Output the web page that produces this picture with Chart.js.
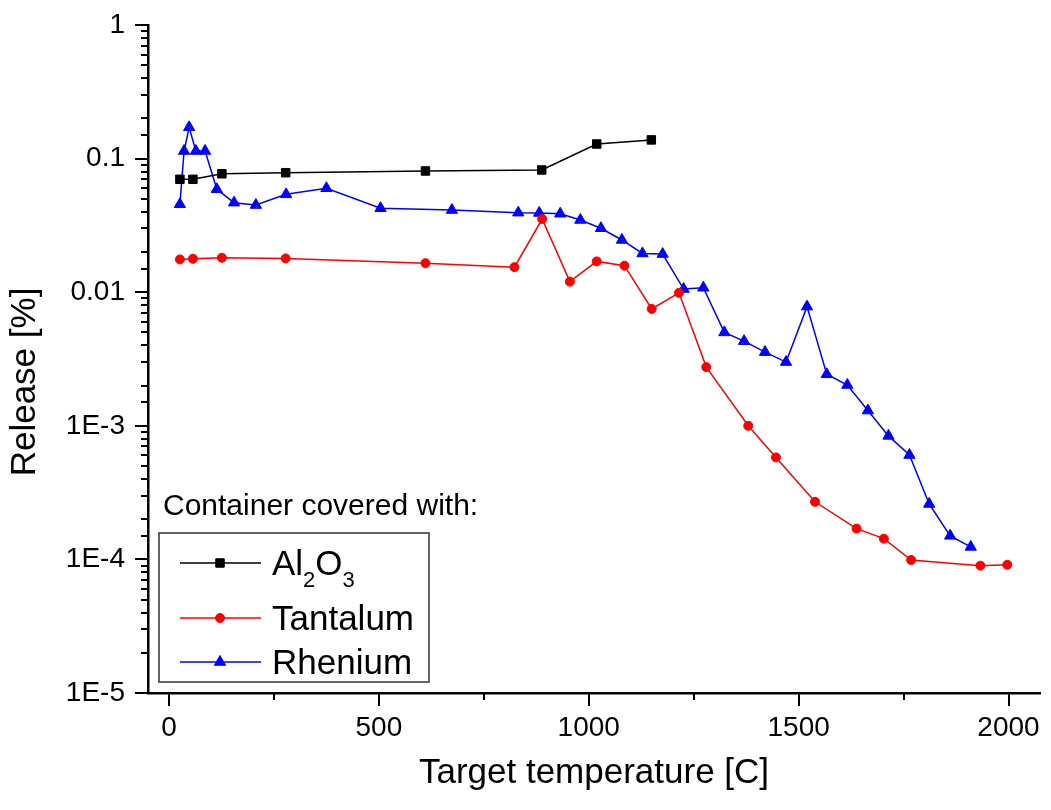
<!DOCTYPE html>
<html>
<head>
<meta charset="utf-8">
<script src="https://cdn.jsdelivr.net/npm/chart.js@4.4.1/dist/chart.umd.min.js"></script>
<style>
  html, body { margin: 0; padding: 0; background: #fff; }
  canvas { display: block; }
</style>
</head>
<body>
<canvas id="releaseChart" width="1051" height="810"></canvas>
<script>
const FONT = "'Liberation Sans', Arial, sans-serif";

// Al2O3 covered container
const al2o3Temp = [26, 57, 126, 278, 611, 888, 1019, 1149];
const al2o3Release = [0.070, 0.070, 0.077, 0.0784, 0.0808, 0.0822, 0.1286, 0.138];

// Tantalum covered container
const tantalumTemp = [26, 57, 126, 278, 611, 823, 889, 955, 1019, 1085, 1150, 1215,
  1280, 1380, 1446, 1539, 1638, 1703, 1768, 1933, 1997];
const tantalumRelease = [0.0176, 0.0178, 0.0181, 0.0179, 0.0165, 0.0154, 0.0353, 0.0120,
  0.0170, 0.0158, 0.0075, 0.0099, 0.00275, 0.00100, 0.00058, 0.00027, 0.000170,
  0.000143, 0.0000990, 0.0000898, 0.0000912];

// Rhenium covered container
const rheniumTemp = [26, 36, 48, 64, 86, 114, 155, 207, 279, 375, 504, 674, 832, 882,
  932, 980, 1029, 1079, 1128, 1176, 1226, 1273, 1323, 1370, 1420, 1470, 1520, 1567,
  1616, 1665, 1714, 1764, 1811, 1861, 1910];
const rheniumRelease = [0.0455, 0.114, 0.1715, 0.114, 0.114, 0.0589, 0.0468, 0.0449,
  0.054, 0.060, 0.0425, 0.0412, 0.0394, 0.0392, 0.0387, 0.0347, 0.0301, 0.0246,
  0.0195, 0.0193, 0.01056, 0.0108, 0.0050, 0.0043, 0.00356, 0.0030, 0.0078, 0.00243,
  0.00202, 0.00130, 0.00084, 0.000604, 0.00026, 0.000150, 0.000124];

// axes
const xMajorTicks = [0, 500, 1000, 1500, 2000];
const xMinorTicks = [250, 750, 1250, 1750];
const yMajorTicks = [1e-5, 1e-4, 1e-3, 0.01, 0.1, 1];
const yTickLabels = ['1E-5', '1E-4', '1E-3', '0.01', '0.1', '1'];

// legend texts, [text, isSubscript]
const legendTitle = 'Container covered with:';
const legendLabels = [
  [['Al', false], ['2', true], ['O', false], ['3', true]],
  [['Tantalum', false]],
  [['Rhenium', false]],
];

function toPoints(xs, ys) {
  return xs.map((x, i) => ({ x, y: ys[i] }));
}

function majorIndexY(v) {
  return yMajorTicks.findIndex((m) => Math.abs(v / m - 1) < 1e-6);
}

// tick marks: long for labelled values, short for the rest
const axisTicks = {
  id: 'axisTicks',
  afterDraw(chart) {
    const { ctx, chartArea, scales } = chart;
    ctx.save();
    ctx.strokeStyle = '#000';
    ctx.lineWidth = 2;
    ctx.beginPath();
    scales.x.ticks.forEach((t) => {
      const px = Math.round(scales.x.getPixelForValue(t.value));
      const len = xMajorTicks.includes(t.value) ? 13 : 7;
      ctx.moveTo(px, chartArea.bottom);
      ctx.lineTo(px, chartArea.bottom + len);
    });
    scales.y.ticks.forEach((t) => {
      const py = Math.round(scales.y.getPixelForValue(t.value));
      const len = majorIndexY(t.value) >= 0 ? 13 : 7;
      ctx.moveTo(chartArea.left, py);
      ctx.lineTo(chartArea.left - len, py);
    });
    ctx.stroke();

    // y axis title
    ctx.translate(25, 382);
    ctx.rotate(-Math.PI / 2);
    ctx.fillStyle = '#000';
    ctx.font = `35px ${FONT}`;
    ctx.textAlign = 'center';
    ctx.textBaseline = 'middle';
    ctx.fillText('Release [%]', 0, 0);
    ctx.restore();
  },
};

const legendBox = {
  id: 'legendBox',
  afterDraw(chart) {
    const ctx = chart.ctx;
    ctx.save();
    ctx.fillStyle = '#000';
    ctx.font = `30px ${FONT}`;
    ctx.textBaseline = 'alphabetic';
    ctx.fillText(legendTitle, 163, 515);

    ctx.strokeStyle = '#333';
    ctx.lineWidth = 1.5;
    ctx.strokeRect(159, 533, 270, 149);

    const rowY = [563, 618, 662];
    chart.data.datasets.forEach((ds, i) => {
      const y = rowY[i];
      ctx.strokeStyle = ds.borderColor;
      ctx.lineWidth = ds.borderWidth;
      ctx.beginPath();
      ctx.moveTo(180, y);
      ctx.lineTo(261, y);
      ctx.stroke();

      ctx.fillStyle = ds.backgroundColor;
      ctx.lineWidth = 1;
      Chart.helpers.drawPoint(ctx, {
        pointStyle: ds.pointStyle,
        radius: ds.pointRadius,
        borderWidth: 1,
        rotation: 0,
      }, 220, y);

      let x = 272;
      ctx.fillStyle = '#000';
      legendLabels[i].forEach(([txt, sub]) => {
        ctx.font = sub ? `22px ${FONT}` : `35px ${FONT}`;
        ctx.fillText(txt, x, sub ? y + 24 : y + 12);
        x += ctx.measureText(txt).width;
      });
    });
    ctx.restore();
  },
};

new Chart(document.getElementById('releaseChart'), {
  type: 'scatter',
  data: {
    datasets: [
      {
        label: 'Al2O3',
        data: toPoints(al2o3Temp, al2o3Release),
        showLine: true,
        borderColor: '#000000',
        backgroundColor: '#000000',
        borderWidth: 1.5,
        pointStyle: 'rect',
        pointRadius: 6,
        pointBorderWidth: 1,
      },
      {
        label: 'Tantalum',
        data: toPoints(tantalumTemp, tantalumRelease),
        showLine: true,
        borderColor: '#ff0000',
        backgroundColor: '#ff0000',
        borderWidth: 1.5,
        pointStyle: 'circle',
        pointRadius: 4.5,
        pointBorderWidth: 1,
      },
      {
        label: 'Rhenium',
        data: toPoints(rheniumTemp, rheniumRelease),
        showLine: true,
        borderColor: '#0000ff',
        backgroundColor: '#0000ff',
        borderWidth: 1.5,
        pointStyle: 'triangle',
        pointRadius: 6.5,
        pointBorderWidth: 1,
      },
    ],
  },
  options: {
    responsive: false,
    animation: false,
    layout: {
      padding: { top: 25, right: 11, left: 0, bottom: 0 },
    },
    plugins: {
      legend: { display: false },
      tooltip: { enabled: false },
    },
    scales: {
      x: {
        type: 'linear',
        min: -50,
        max: 2075,
        afterBuildTicks: (scale) => {
          scale.ticks = [...xMajorTicks, ...xMinorTicks]
            .sort((a, b) => a - b)
            .map((value) => ({ value }));
        },
        afterFit: (scale) => {
          scale.height = 117;
          scale.paddingLeft = 0;
          scale.paddingRight = 0;
        },
        grid: { display: false, drawTicks: false },
        border: { display: true, color: '#000', width: 2.5 },
        ticks: {
          autoSkip: false,
          maxRotation: 0,
          padding: 18,
          color: '#000',
          font: { family: FONT, size: 28 },
          callback: (value) => (xMajorTicks.includes(value) ? String(value) : ''),
        },
        title: {
          display: true,
          text: 'Target temperature [C]',
          color: '#000',
          font: { family: FONT, size: 35 },
          padding: { top: 0, bottom: 16 },
        },
      },
      y: {
        type: 'logarithmic',
        min: 1e-5,
        max: 1,
        afterFit: (scale) => {
          scale.width = 148;
          scale.paddingTop = 0;
          scale.paddingBottom = 0;
        },
        grid: { display: false, drawTicks: false },
        border: { display: true, color: '#000', width: 2.5 },
        ticks: {
          autoSkip: false,
          padding: 23,
          color: '#000',
          font: { family: FONT, size: 28 },
          callback: (value) => {
            const i = majorIndexY(value);
            return i >= 0 ? yTickLabels[i] : '';
          },
        },
      },
    },
  },
  plugins: [axisTicks, legendBox],
});
</script>
</body>
</html>
